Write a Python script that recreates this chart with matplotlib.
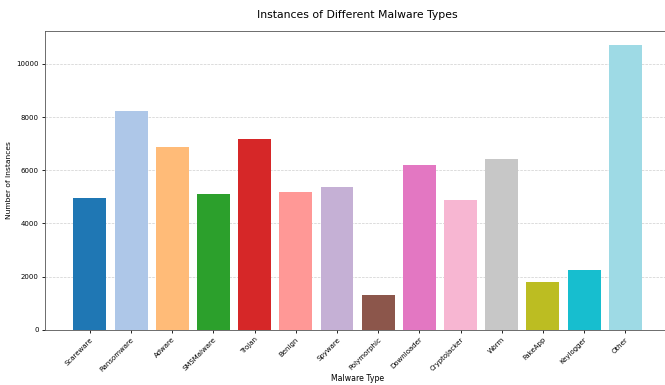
import numpy as np
import matplotlib
matplotlib.use("Agg")
import matplotlib.pyplot as plt

# ── Data ──────────────────────────────────────────────────────────────────────

malware_types = ["Scareware", "Ransomware", "Adware", "SMSMalware", "Trojan",
                 "Benign", "Spyware", "Polymorphic", "Downloader",
                 "Cryptojacker", "Worm", "FakeApp", "Keylogger", "Other"]
instances = [4940, 8210, 6870, 5090, 7160, 5180, 5390,
             1310, 6200, 4890, 6410, 1800, 2260, 10700]

# ── Plot ──────────────────────────────────────────────────────────────────────

colors = plt.cm.tab20(np.linspace(0, 1, len(malware_types)))

fig = plt.figure(figsize=(6.65, 3.85), dpi=100)
# axes runs slightly past the right edge, as in the cropped original
ax = fig.add_axes([0.0677, 0.143, 0.940, 0.7766])

x = np.arange(len(malware_types))
ax.bar(x, instances, color=colors, width=0.8)
ax.set_xticks(x)
ax.set_xticklabels(malware_types, rotation=45, ha="right", fontsize=5.0,
                   rotation_mode="anchor")
ax.tick_params(axis="y", labelsize=5.0, length=2.5, width=0.6, pad=2)
ax.tick_params(axis="x", length=2.5, width=0.6, pad=2)

ax.set_title("Instances of Different Malware Types", fontsize=7.8, pad=9)
ax.set_xlabel("Malware Type", fontsize=5.6, labelpad=1)
ax.set_ylabel("Number of Instances", fontsize=5.4, labelpad=3)
ax.grid(axis="y", linestyle="--", alpha=0.6, linewidth=0.5)
ax.set_axisbelow(True)
for s in ax.spines.values():
    s.set_linewidth(0.6)
    s.set_color("#555555")

fig.savefig("out.png", dpi=100)
